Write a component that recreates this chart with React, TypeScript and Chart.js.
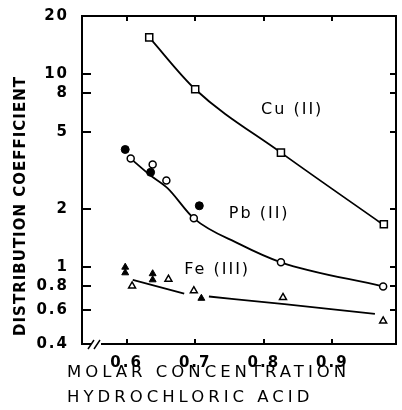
import React, { useEffect, useRef } from "react";
import { Chart, registerables } from "chart.js";

Chart.register(...registerables);

// ---- data ----
const xTicks = [0.6, 0.7, 0.8, 0.9];
const yTicks = [0.4, 0.6, 0.8, 1, 2, 5, 8, 10, 20];

const cuX = [0.633, 0.7, 0.825, 0.975];
const cuY = [15.5, 8.35, 3.92, 1.67];

const pbOpenX = [0.606, 0.638, 0.658, 0.698, 0.825, 0.974];
const pbOpenY = [3.65, 3.4, 2.81, 1.79, 1.06, 0.795];
const pbFilledX = [0.598, 0.635, 0.706];
const pbFilledY = [4.07, 3.1, 2.08];

const feOpenX = [0.608, 0.661, 0.698, 0.828, 0.974];
const feOpenY = [0.8, 0.867, 0.755, 0.697, 0.527];
const feFilledX = [0.598, 0.598, 0.638, 0.638, 0.709];
const feFilledY = [1.0, 0.935, 0.925, 0.86, 0.69];

const cuFitX = [0.633, 0.7, 0.825, 0.972];
const cuFitY = [15.5, 8.35, 3.92, 1.68];
const pbFitX = [0.606, 0.634, 0.66, 0.698, 0.764, 0.825, 0.972];
const pbFitY = [3.65, 3.0, 2.56, 1.79, 1.32, 1.06, 0.797];
const feFitX = [0.609, 0.684, 0.7, 0.72, 0.83, 0.962];
const feFitY = [0.86, 0.73, null, 0.705, 0.643, 0.573];

const seriesLabels = ["Cu (II)", "Pb (II)", "Fe (III)"];
const labelX = [0.796, 0.749, 0.684];
const labelY = [6.5, 1.9, 0.97];

const xTitle = ["MOLAR CONCENTRATION", "HYDROCHLORIC ACID"];
const yTitle = "DISTRIBUTION COEFFICIENT";

const pts = (xs: number[], ys: (number | null)[]) =>
  xs.map((x, i) => ({ x, y: ys[i] }));

const FONT = '"DejaVu Sans", sans-serif';

const decor = {
  id: "decor",
  beforeDraw(chart: any) {
    chart.ctx.letterSpacing = "2px";
  },
  afterDraw(chart: any) {
    const ctx = chart.ctx;
    const a = chart.chartArea;
    const xs = chart.scales.x;
    const ys = chart.scales.y;
    const L = Math.round(a.left), R = Math.round(a.right);
    const T = Math.round(a.top), B = Math.round(a.bottom);
    ctx.save();
    ctx.letterSpacing = "0px";
    ctx.fillStyle = "#000000";
    ctx.strokeStyle = "#000000";
    // frame (filled rectangles)
    ctx.fillRect(L - 1, T - 1, R - L + 2, 2); // top
    ctx.fillRect(R - 1, T - 1, 2, B - T + 2); // right
    ctx.fillRect(L - 1, T - 1, 2, B - T + 2); // left
    ctx.fillRect(L - 1, B - 1, 8, 2); // bottom, before break
    ctx.fillRect(L + 19, B - 1, R - L - 18, 2); // bottom, after break
    // inward ticks
    for (const v of yTicks) {
      const py = Math.round(ys.getPixelForValue(v));
      ctx.fillRect(L, py - 1, 9, 2);
      ctx.fillRect(R - 6, py - 1, 6, 2);
    }
    for (const v of xTicks) {
      const px = Math.round(xs.getPixelForValue(v));
      ctx.fillRect(px - 1, B - 5, 2, 5);
      ctx.fillRect(px - 1, T, 2, 5);
    }
    // axis break slashes
    ctx.lineWidth = 1.5;
    ctx.beginPath();
    ctx.moveTo(L + 6, B + 5);
    ctx.lineTo(L + 12, B - 4);
    ctx.moveTo(L + 12, B + 5);
    ctx.lineTo(L + 18, B - 4);
    ctx.stroke();

    // series labels
    ctx.font = `16px ${FONT}`;
    ctx.letterSpacing = "2px";
    ctx.textAlign = "left";
    ctx.textBaseline = "middle";
    seriesLabels.forEach((t, i) => {
      ctx.fillText(t, xs.getPixelForValue(labelX[i]), ys.getPixelForValue(labelY[i]));
    });

    // x title
    ctx.font = `16.5px ${FONT}`;
    ctx.letterSpacing = "4px";
    ctx.textBaseline = "alphabetic";
    ctx.fillText(xTitle[0], 67, 377);
    ctx.fillText(xTitle[1], 67, 402);

    // y title
    ctx.translate(21, 206);
    ctx.rotate(-Math.PI / 2);
    ctx.font = `bold 15px ${FONT}`;
    ctx.letterSpacing = "1px";
    ctx.textAlign = "center";
    ctx.textBaseline = "middle";
    ctx.fillText(yTitle, 0, 0);
    ctx.restore();
    ctx.letterSpacing = "0px";
  },
};

export default function App() {
  const ref = useRef<HTMLCanvasElement | null>(null);
  useEffect(() => {
    if (!ref.current) return;
    const markerBase = { showLine: false, order: 1 };
    const fitBase = {
      showLine: true,
      pointRadius: 0,
      borderColor: "#000",
      borderWidth: 1.8,
      cubicInterpolationMode: "monotone",
      spanGaps: false,
      order: 2,
    };
    const chart = new Chart(ref.current, {
      type: "scatter",
      data: {
        datasets: [
          { ...fitBase, label: "Cu fit", data: pts(cuFitX, cuFitY) },
          { ...fitBase, label: "Pb fit", data: pts(pbFitX, pbFitY) },
          { ...fitBase, label: "Fe fit", data: pts(feFitX, feFitY) },
          {
            ...markerBase,
            label: "Cu (II)",
            data: pts(cuX, cuY),
            pointStyle: "rect",
            pointRadius: 5,
            backgroundColor: "#fff",
            borderColor: "#000",
            borderWidth: 1.5,
          },
          {
            ...markerBase,
            label: "Pb (II) open",
            data: pts(pbOpenX, pbOpenY),
            pointStyle: "circle",
            pointRadius: 3.5,
            backgroundColor: "#fff",
            borderColor: "#000",
            borderWidth: 1.5,
          },
          {
            ...markerBase,
            label: "Pb (II) filled",
            data: pts(pbFilledX, pbFilledY),
            pointStyle: "circle",
            pointRadius: 4,
            backgroundColor: "#000",
            borderColor: "#000",
            borderWidth: 1,
          },
          {
            ...markerBase,
            label: "Fe (III) open",
            data: pts(feOpenX, feOpenY),
            pointStyle: "triangle",
            pointRadius: 4,
            backgroundColor: "#fff",
            borderColor: "#000",
            borderWidth: 1.5,
          },
          {
            ...markerBase,
            label: "Fe (III) filled",
            data: pts(feFilledX, feFilledY),
            pointStyle: "triangle",
            pointRadius: 4,
            backgroundColor: "#000",
            borderColor: "#000",
            borderWidth: 1,
          },
        ] as any,
      },
      options: {
        animation: false,
        responsive: false,
        devicePixelRatio: 1,
        layout: { padding: { left: 0, top: 16, right: 3, bottom: 0 } },
        plugins: {
          legend: { display: false },
          tooltip: { enabled: false },
          title: { display: false },
        },
        scales: {
          x: {
            type: "linear",
            position: "bottom",
            min: 0.535,
            max: 0.992,
            grid: { display: false },
            border: { display: false },
            afterBuildTicks: (s: any) => {
              s.ticks = xTicks.map((v) => ({ value: v }));
            },
            afterFit: (s: any) => {
              s.height = 66;
              s.paddingLeft = 0;
              s.paddingRight = 0;
              s.paddingTop = 0;
              s.paddingBottom = 0;
            },
            ticks: {
              autoSkip: false,
              maxRotation: 0,
              padding: 2,
              color: "#000",
              font: { family: FONT, size: 15, weight: "bold" },
              callback: (v: any) => Number(v).toFixed(1),
            },
          },
          y: {
            type: "logarithmic",
            position: "left",
            min: 0.4,
            max: 20,
            grid: { display: false },
            border: { display: false },
            afterBuildTicks: (s: any) => {
              s.ticks = yTicks.map((v) => ({ value: v }));
            },
            afterFit: (s: any) => {
              s.width = 82;
              s.paddingLeft = 0;
              s.paddingRight = 0;
              s.paddingTop = 0;
              s.paddingBottom = 0;
            },
            ticks: {
              autoSkip: false,
              padding: 5,
              color: "#000",
              font: { family: FONT, size: 15, weight: "bold" },
              callback: (v: any) => String(v),
            },
          },
        },
      } as any,
      plugins: [decor],
    });
    return () => chart.destroy();
  }, []);
  return (
    <div
      style={{
        position: "absolute",
        left: 0,
        top: 0,
        width: 402,
        height: 410,
        background: "#fff",
      }}
    >
      <canvas ref={ref} width={402} height={410} />
    </div>
  );
}
